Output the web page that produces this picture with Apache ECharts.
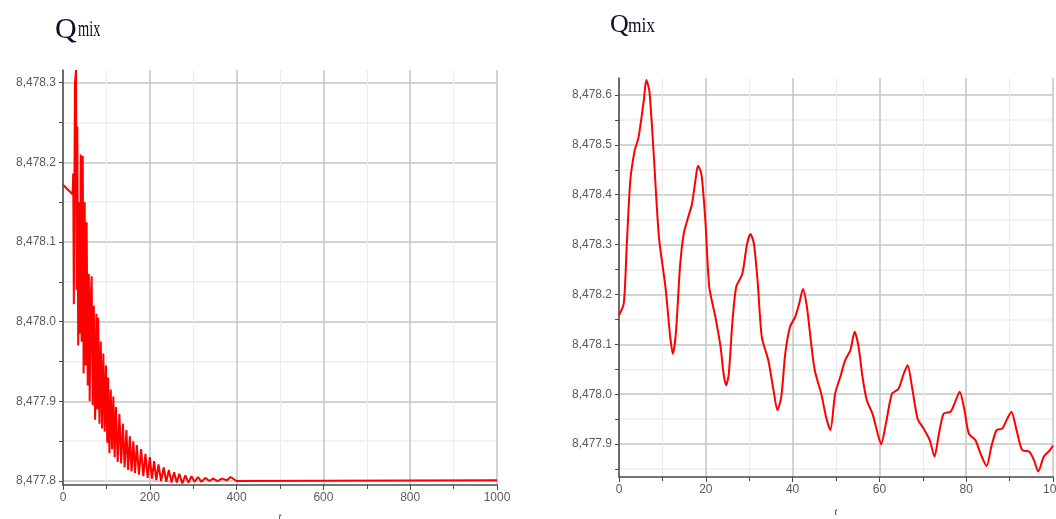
<!DOCTYPE html>
<html>
<head>
<meta charset="utf-8">
<script src="https://cdn.jsdelivr.net/npm/echarts@6/dist/echarts.min.js"></script>
<style>
  html, body { margin: 0; padding: 0; background: #ffffff; }
  #chart { width: 1056px; height: 519px; }
</style>
</head>
<body>
<div id="chart"></div>
<script>
// Long run: Qmix over t = 0..1000
const leftT = [0, 22, 23.5, 25, 27.5, 30, 31.5, 33, 35, 37.5, 39, 41, 43, 45.5, 47.5, 50, 52, 54.5, 57, 59.5,
  61.5, 64, 66, 68.5, 71, 74, 77, 79, 81, 84, 87, 90, 93, 96, 99, 102, 104, 107, 110, 113,
  116, 119, 122, 126, 130, 134, 138, 142, 146, 150, 154, 158, 162, 166, 170, 175, 180, 185, 190, 195,
  200, 205, 210, 215, 220, 226, 232, 238, 244, 250, 256, 262, 268, 275, 282, 289, 296, 303, 311, 319,
  328, 337, 346, 356, 366, 378, 386, 400, 1000];
const leftQ = [8478.172, 8478.160, 8478.186, 8478.022, 8478.300, 8478.316, 8478.040, 8478.245, 8477.970, 8478.150,
  8477.985, 8478.210, 8477.975, 8478.208, 8477.935, 8478.150, 8477.945, 8478.125, 8477.920, 8478.060,
  8477.900, 8478.030, 8478.057, 8477.895, 8478.020, 8477.877, 8478.010, 8477.890, 8478.005, 8477.872,
  8477.975, 8477.866, 8477.960, 8477.862, 8477.945, 8477.848, 8477.930, 8477.835, 8477.915, 8477.840,
  8477.906, 8477.830, 8477.893, 8477.824, 8477.884, 8477.822, 8477.872, 8477.817, 8477.864, 8477.814,
  8477.856, 8477.812, 8477.850, 8477.810, 8477.845, 8477.808, 8477.840, 8477.806, 8477.834, 8477.804,
  8477.830, 8477.803, 8477.825, 8477.801, 8477.821, 8477.800, 8477.817, 8477.799, 8477.814, 8477.798,
  8477.811, 8477.798, 8477.809, 8477.797, 8477.807, 8477.798, 8477.806, 8477.799, 8477.805, 8477.799,
  8477.804, 8477.800, 8477.803, 8477.800, 8477.803, 8477.801, 8477.805, 8477.800, 8477.801];

// Close-up: Qmix over t = 0..100
const rightT = [0, 1.1, 1.8, 2.6, 3.6, 4.5, 5.7, 6.3, 7.0, 8.0, 9.2, 10.7, 11.8, 12.4, 13.1, 14.1, 14.9, 15.7, 16.8, 17.6,
  18.2, 19.0, 19.9, 20.8, 22.2, 23.4, 24.1, 24.7, 25.3, 26.1, 27.0, 28.4, 29.5, 30.3, 31.1, 32.0, 32.9, 34.4, 35.6, 36.5,
  37.4, 38.3, 39.4, 40.6, 41.5, 42.4, 43.3, 44.1, 45.1, 46.6, 47.7, 48.7, 49.8, 51.0, 52.1, 53.3, 54.3, 55.2, 56.1, 57.1,
  58.4, 59.4, 60.4, 61.5, 62.9, 64.4, 65.6, 66.5, 67.5, 68.8, 70.2, 71.6, 72.7, 73.6, 74.8, 76.4, 77.3, 78.5, 79.6, 80.6,
  82.1, 83.3, 84.7, 85.8, 87.0, 88.3, 89.3, 90.4, 91.6, 92.9, 94.5, 95.6, 96.6, 97.9, 99.3, 100];
const rightQ = [8478.158, 8478.182, 8478.301, 8478.428, 8478.488, 8478.515, 8478.588, 8478.630, 8478.608, 8478.481,
  8478.315, 8478.215, 8478.115, 8478.081, 8478.122, 8478.261, 8478.321, 8478.348, 8478.381, 8478.428,
  8478.458, 8478.441, 8478.348, 8478.215, 8478.155, 8478.095, 8478.041, 8478.018, 8478.041, 8478.141,
  8478.215, 8478.241, 8478.301, 8478.321, 8478.301, 8478.220, 8478.115, 8478.068, 8478.008, 8477.968,
  8477.995, 8478.081, 8478.135, 8478.155, 8478.181, 8478.211, 8478.175, 8478.115, 8478.048, 8478.001,
  8477.955, 8477.928, 8478.001, 8478.035, 8478.068, 8478.088, 8478.125, 8478.095, 8478.035, 8477.988,
  8477.961, 8477.928, 8477.900, 8477.941, 8478.001, 8478.011, 8478.041, 8478.058, 8478.015, 8477.951,
  8477.931, 8477.908, 8477.875, 8477.915, 8477.961, 8477.965, 8477.981, 8478.005, 8477.968, 8477.921,
  8477.908, 8477.881, 8477.856, 8477.895, 8477.928, 8477.931, 8477.948, 8477.965, 8477.928, 8477.888,
  8477.885, 8477.868, 8477.845, 8477.875, 8477.888, 8477.897];

// Tick positions (every 0.05) and labelled values (every 0.1)
const leftYTicks = [8477.8, 8477.85, 8477.9, 8477.95, 8478.0, 8478.05, 8478.1, 8478.15, 8478.2, 8478.25, 8478.3];
const leftYLabels = [8477.8, 8477.9, 8478.0, 8478.1, 8478.2, 8478.3];
const rightYTicks = [8477.85, 8477.9, 8477.95, 8478.0, 8478.05, 8478.1, 8478.15, 8478.2, 8478.25, 8478.3,
  8478.35, 8478.4, 8478.45, 8478.5, 8478.55, 8478.6];
const rightYLabels = [8477.9, 8478.0, 8478.1, 8478.2, 8478.3, 8478.4, 8478.5, 8478.6];

const MAJOR = '#c4c4c4';
const MINOR = '#ececec';
const AXIS = '#4a4a4a';
const LABEL = '#5a5a5a';

function fmt(v) {
  const parts = v.toFixed(1).split('.');
  return parts[0].replace(/\B(?=(\d{3})+(?!\d))/g, ',') + '.' + parts[1];
}
function pairs(ts, qs) { return ts.map((t, i) => [t, qs[i]]); }

function xAxisFor(gridIndex, max, interval, nameGap) {
  return {
    type: 'value', gridIndex, min: 0, max, interval,
    name: 't', nameLocation: 'middle', nameGap,
    nameTextStyle: { fontFamily: 'Liberation Serif', fontStyle: 'italic', fontSize: 10, color: '#333' },
    axisLine: { show: true, onZero: false, lineStyle: { color: AXIS, width: 1.5 } },
    axisTick: { show: true, length: 5, lineStyle: { color: AXIS } },
    minorTick: { show: true, splitNumber: 2, length: 4, lineStyle: { color: AXIS } },
    axisLabel: { formatter: v => String(v), color: LABEL, fontFamily: 'Liberation Sans', fontSize: 12, margin: 7 },
    splitLine: { show: true, lineStyle: { color: MAJOR, width: 1.5 } },
    minorSplitLine: { show: true, lineStyle: { color: MINOR, width: 1 } }
  };
}
function yAxisFor(gridIndex, min, max, ticks, labels, colors, splitNumber) {
  return {
    type: 'value', gridIndex, min, max, splitNumber,
    axisLine: { show: true, onZero: false, lineStyle: { color: AXIS, width: 1.5 } },
    axisTick: { show: true, length: 4, customValues: ticks, lineStyle: { color: AXIS } },
    axisLabel: { customValues: labels, formatter: fmt, color: LABEL, fontFamily: 'Liberation Sans', fontSize: 12, margin: 7 },
    splitLine: { show: true, lineStyle: { color: colors, width: 1.5 } }
  };
}

const chart = echarts.init(document.getElementById('chart'), null, { renderer: 'canvas' });

// "Q" with a narrow "mix" beside it
const titleFill = '#0e0e26';
function title(x, y, qSize, mx, my, mSize, mScale) {
  return {
    type: 'group', x, y,
    children: [
      { type: 'text', x: 0, y: 0, style: { text: 'Q', font: qSize + 'px "Liberation Serif"', fill: titleFill } },
      { type: 'text', x: mx, y: my, scaleX: mScale, style: { text: 'mix', font: mSize + 'px "Liberation Serif"', fill: titleFill } }
    ]
  };
}

chart.setOption({
  animation: false,
  graphic: [title(55, 15, 30, 23, 3, 24, 0.6), title(610, 12, 26, 18, 5, 20, 0.87)],
  grid: [
    { left: 63, top: 70, width: 434, height: 415, containLabel: false, outerBoundsMode: 'none' },
    { left: 619, top: 78, width: 434, height: 399, containLabel: false, outerBoundsMode: 'none' }
  ],
  xAxis: [xAxisFor(0, 1000, 200, 27), xAxisFor(1, 100, 20, 30)],
  yAxis: [
    yAxisFor(0, 8477.795, 8478.316, leftYTicks, leftYLabels, [MAJOR, MINOR], 10),
    yAxisFor(1, 8477.834, 8478.634, rightYTicks, rightYLabels, [MINOR, MAJOR], 16)
  ],
  series: [
    {
      type: 'line', xAxisIndex: 0, yAxisIndex: 0, data: pairs(leftT, leftQ),
      showSymbol: false, symbol: 'none', lineStyle: { color: '#ff0000', width: 2 }
    },
    {
      type: 'line', xAxisIndex: 1, yAxisIndex: 1, data: pairs(rightT, rightQ),
      showSymbol: false, symbol: 'none', smooth: 0.25, lineStyle: { color: '#ff0000', width: 2 }
    }
  ]
});
</script>
</body>
</html>
